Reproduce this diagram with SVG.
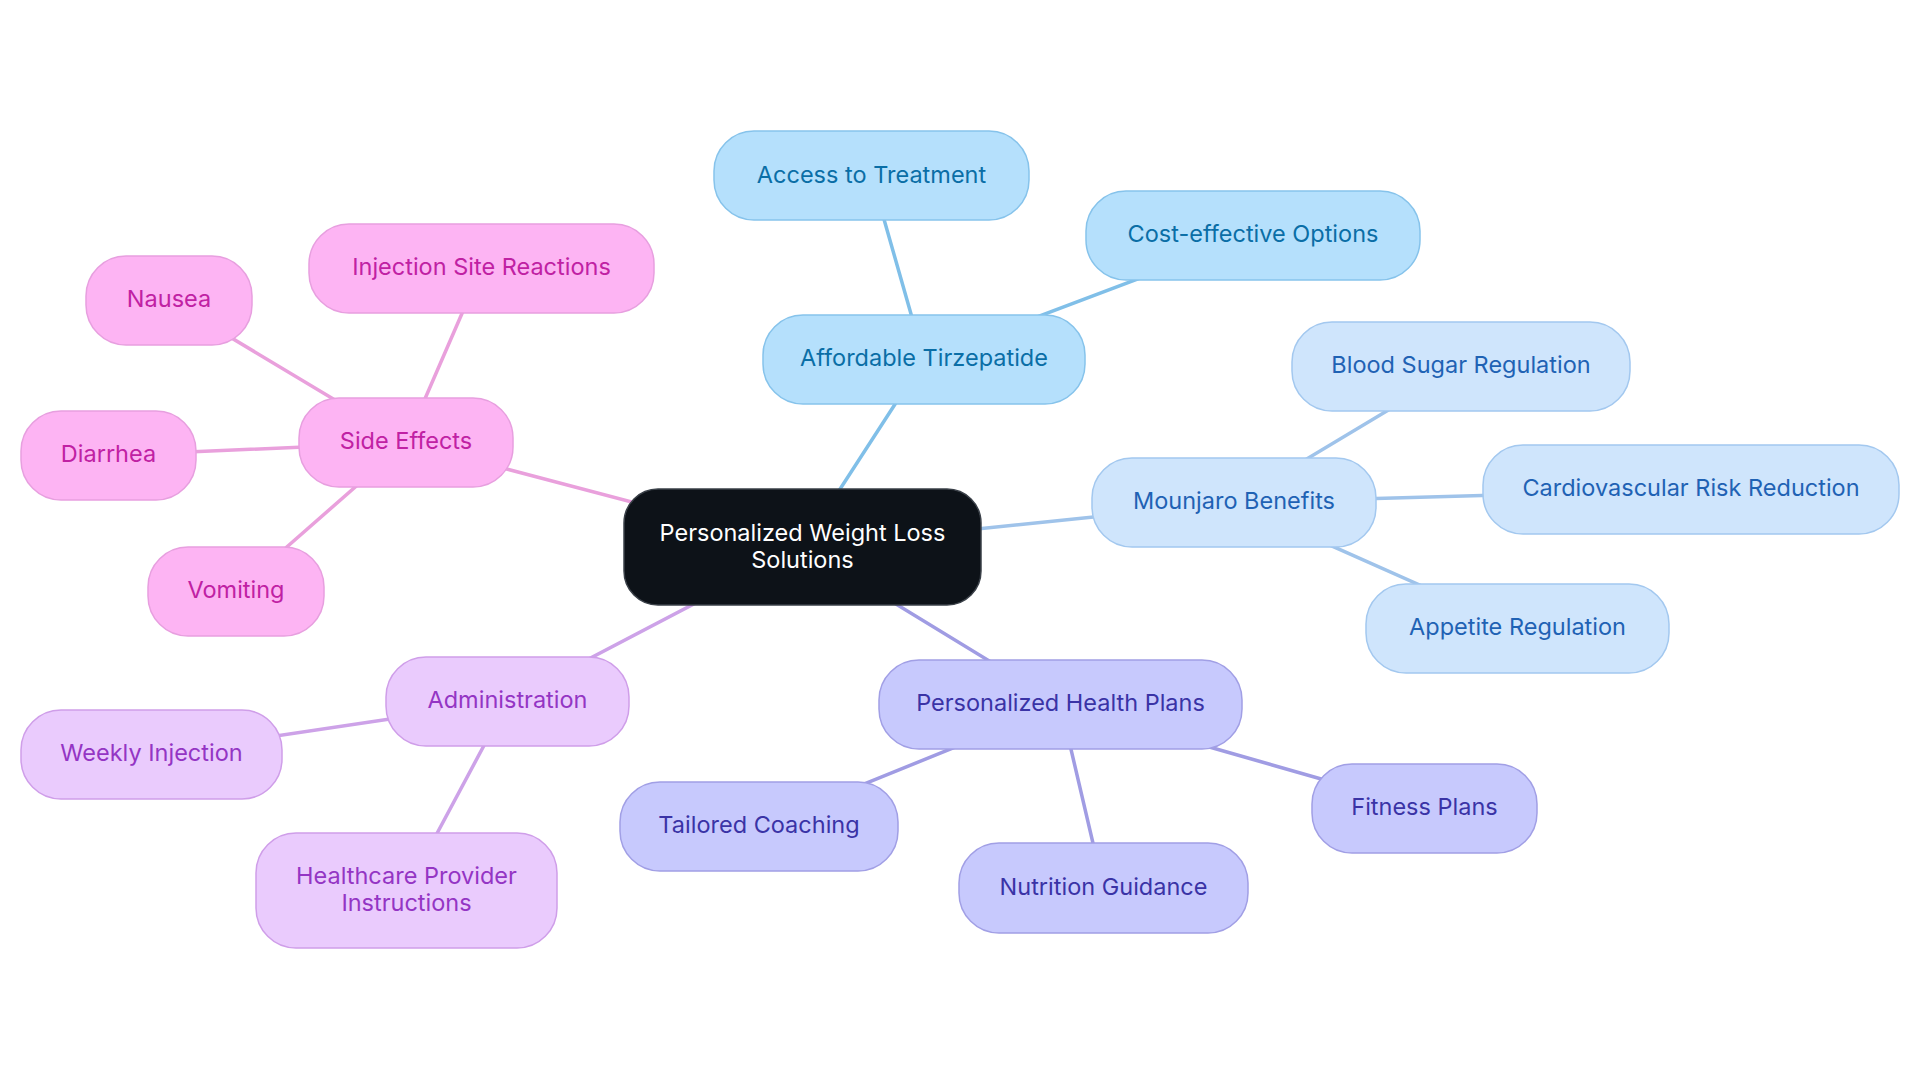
<svg xmlns="http://www.w3.org/2000/svg" width="1920" height="1083" viewBox="0 0 1920 1083">
<style>
text{font-family:Inter,"Noto Sans","Liberation Sans",sans-serif;font-size:23.5px;text-anchor:middle}
.e{stroke-width:3.5;fill:none;stroke-linecap:round}
.n rect{stroke-width:1.5}
.root rect{fill:#0d1218;stroke:#3a4048}
.root text{fill:#ffffff}
.pk rect{fill:#fdb4f3;stroke:#e79fdf}
.pk text{fill:#c021a3}
.pu rect{fill:#eacbfd;stroke:#cf9ee9}
.pu text{fill:#9435c4}
.in rect{fill:#c7c9fd;stroke:#a19fe5}
.in text{fill:#3a33a6}
.lb rect{fill:#cfe5fc;stroke:#a3c8ef}
.lb text{fill:#1f62b4}
.sk rect{fill:#b5e0fc;stroke:#86c3eb}
.sk text{fill:#0a6ea6}
.epk{stroke:#e9a0dc}
.epu{stroke:#cda2e8}
.ein{stroke:#a09ce3}
.elb{stroke:#9fc3ea}
.esk{stroke:#80bfe8}
</style>
<rect x="0" y="0" width="1920" height="1083" fill="#ffffff"/>
<g id="connectors">
<line class="e esk" x1="802.5" y1="547" x2="924" y2="359.5"/>
<line class="e esk" x1="924" y1="359.5" x2="871.5" y2="175.5"/>
<line class="e esk" x1="924" y1="359.5" x2="1253" y2="235.5"/>
<line class="e elb" x1="802.5" y1="547" x2="1234" y2="502.5"/>
<line class="e elb" x1="1234" y1="502.5" x2="1461" y2="366.5"/>
<line class="e elb" x1="1234" y1="502.5" x2="1691" y2="489.5"/>
<line class="e elb" x1="1234" y1="502.5" x2="1517.5" y2="628.5"/>
<line class="e ein" x1="802.5" y1="547" x2="1060.5" y2="704.5"/>
<line class="e ein" x1="1060.5" y1="704.5" x2="759" y2="826.5"/>
<line class="e ein" x1="1060.5" y1="704.5" x2="1103.5" y2="888"/>
<line class="e ein" x1="1060.5" y1="704.5" x2="1424.5" y2="808.5"/>
<line class="e epu" x1="802.5" y1="547" x2="507.5" y2="701.5"/>
<line class="e epu" x1="507.5" y1="701.5" x2="151.5" y2="754.5"/>
<line class="e epu" x1="507.5" y1="701.5" x2="406.5" y2="890.5"/>
<line class="e epk" x1="802.5" y1="547" x2="406" y2="442.5"/>
<line class="e epk" x1="406" y1="442.5" x2="481.5" y2="268.5"/>
<line class="e epk" x1="406" y1="442.5" x2="169" y2="300.5"/>
<line class="e epk" x1="406" y1="442.5" x2="108.5" y2="455.5"/>
<line class="e epk" x1="406" y1="442.5" x2="236" y2="591.5"/>
</g>
<g id="root" class="n root"><rect x="624" y="489" width="357" height="116" rx="34"/><text x="802.5" y="540.5">Personalized Weight Loss</text><text x="802.5" y="567.5">Solutions</text></g>
<g id="access" class="n sk"><rect x="714" y="131" width="315" height="89" rx="40"/><text x="871.5" y="183">Access to Treatment</text></g>
<g id="cost" class="n sk"><rect x="1086" y="191" width="334" height="89" rx="40"/><text x="1253" y="242">Cost-effective Options</text></g>
<g id="affordable" class="n sk"><rect x="763" y="315" width="322" height="89" rx="40"/><text x="924" y="366">Affordable Tirzepatide</text></g>
<g id="blood" class="n lb"><rect x="1292" y="322" width="338" height="89" rx="40"/><text x="1461" y="373">Blood Sugar Regulation</text></g>
<g id="cardio" class="n lb"><rect x="1483" y="445" width="416" height="89" rx="40"/><text x="1691" y="496">Cardiovascular Risk Reduction</text></g>
<g id="mounjaro" class="n lb"><rect x="1092" y="458" width="284" height="89" rx="40"/><text x="1234" y="509">Mounjaro Benefits</text></g>
<g id="appetite" class="n lb"><rect x="1366" y="584" width="303" height="89" rx="40"/><text x="1517.5" y="635">Appetite Regulation</text></g>
<g id="health" class="n in"><rect x="879" y="660" width="363" height="89" rx="40"/><text x="1060.5" y="711">Personalized Health Plans</text></g>
<g id="fitness" class="n in"><rect x="1312" y="764" width="225" height="89" rx="40"/><text x="1424.5" y="815">Fitness Plans</text></g>
<g id="nutrition" class="n in"><rect x="959" y="843" width="289" height="90" rx="40"/><text x="1103.5" y="894.5">Nutrition Guidance</text></g>
<g id="tailored" class="n in"><rect x="620" y="782" width="278" height="89" rx="40"/><text x="759" y="833">Tailored Coaching</text></g>
<g id="admin" class="n pu"><rect x="386" y="657" width="243" height="89" rx="40"/><text x="507.5" y="708">Administration</text></g>
<g id="weekly" class="n pu"><rect x="21" y="710" width="261" height="89" rx="40"/><text x="151.5" y="761">Weekly Injection</text></g>
<g id="healthcare" class="n pu"><rect x="256" y="833" width="301" height="115" rx="40"/><text x="406.5" y="883.5">Healthcare Provider</text><text x="406.5" y="910.5">Instructions</text></g>
<g id="side" class="n pk"><rect x="299" y="398" width="214" height="89" rx="40"/><text x="406" y="449">Side Effects</text></g>
<g id="injection" class="n pk"><rect x="309" y="224" width="345" height="89" rx="40"/><text x="481.5" y="275">Injection Site Reactions</text></g>
<g id="nausea" class="n pk"><rect x="86" y="256" width="166" height="89" rx="40"/><text x="169" y="307">Nausea</text></g>
<g id="diarrhea" class="n pk"><rect x="21" y="411" width="175" height="89" rx="40"/><text x="108.5" y="462">Diarrhea</text></g>
<g id="vomiting" class="n pk"><rect x="148" y="547" width="176" height="89" rx="40"/><text x="236" y="598">Vomiting</text></g>
</svg>
